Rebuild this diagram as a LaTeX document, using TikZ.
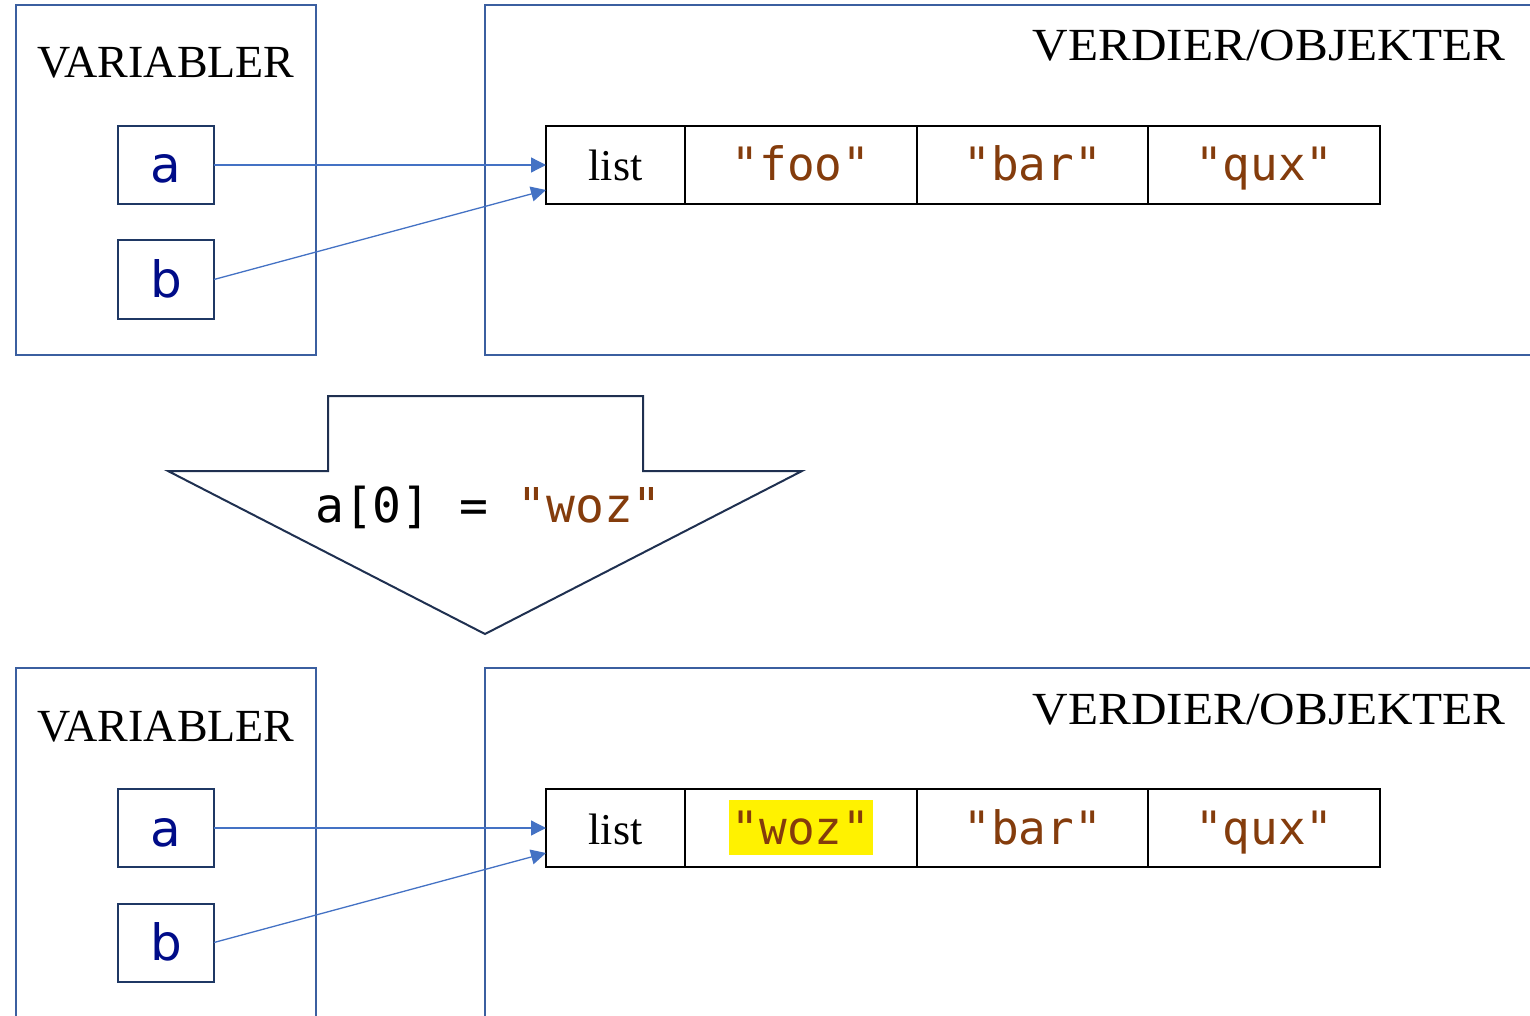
\documentclass[tikz,border=0pt]{standalone}
\usepackage{fontspec}
\setmainfont{Liberation Serif}
\setsansfont{DejaVu Sans}
\setmonofont{DejaVu Sans Mono}
\newfontfamily\widetitle[FakeStretch=1.07]{Liberation Serif}
\usetikzlibrary{arrows.meta,calc}
\definecolor{panelblue}{HTML}{3B5FA0}
\definecolor{varborder}{HTML}{1F3864}
\definecolor{varname}{HTML}{000C88}
\definecolor{strbrown}{HTML}{843C0C}
\definecolor{refblue}{HTML}{4472C4}
\definecolor{arrowedge}{HTML}{1F3050}
\begin{document}
\begin{tikzpicture}[x=1pt,y=-1pt,
  panel/.style={draw=panelblue,line width=2.2pt},
  title/.style={font=\fontsize{46}{50}\selectfont,inner sep=0pt},
  wtitle/.style={font=\widetitle\fontsize{46}{50}\selectfont,inner sep=0pt},
  varbox/.style={draw=varborder,line width=2pt,minimum width=96pt,minimum height=78pt,inner sep=0pt,outer sep=0pt,
    text=varname,font=\sffamily\fontsize{50}{56}\selectfont,text height=44pt,text depth=8pt},
  cell/.style={draw=black,line width=2pt,minimum height=78pt,inner sep=0pt,outer sep=0pt,anchor=west,
    text height=40pt,text depth=8pt},
  typecell/.style={cell,minimum width=139pt,font=\fontsize{44}{50}\selectfont},
  valcell/.style={cell,minimum width=231.7pt,text=strbrown,font=\ttfamily\fontsize{46}{52}\selectfont},
  ref/.style={draw=refblue,line width=1.3pt,-{Triangle[length=15pt,width=15pt]}},
  highlight/.style={fill=yellow,draw=none,inner sep=0pt,minimum width=144pt,minimum height=55pt}
]
\useasboundingbox (0,0) rectangle (1530,1016);
\clip (0,0) rectangle (1530,1016);

% ---------- top panel ----------
\draw[panel] (16,5) rectangle (316,355);
\draw[panel] (485,5) rectangle (1560,355);
\node[title,anchor=base] (vt1) at (166,78) {VARIABLER};
\node[wtitle,anchor=base east] (ot1) at (1506,61) {VERDIER/OBJEKTER};

\node[varbox] (a1) at (166,165) {a};
\node[varbox] (b1) at (166,279.5) {b};

\node[typecell] (l1) at (546,165) {list};
\node[valcell] (c11) at (l1.east) {"foo"};
\node[valcell] (c12) at (c11.east) {"bar"};
\node[valcell] (c13) at (c12.east) {"qux"};

\coordinate (bt1) at (546,190);
\draw[ref] (a1.east) -- (l1.west);
\draw[ref] (b1.east) -- (bt1);

% ---------- block arrow ----------
\draw[draw=arrowedge,line width=2pt,line join=miter,fill=white]
  (328,396) -- (643,396) -- (643,471) -- (802,471) -- (485,634) -- (168,471) -- (328,471) -- cycle;
\node[anchor=base,inner sep=0pt,font=\ttfamily\fontsize{48}{52}\selectfont] (stmt) at (488.5,522)
  {a[0] = \textcolor{strbrown}{"woz"}};

% ---------- bottom panel ----------
\draw[panel] (16,1040) -- (16,668) -- (316,668) -- (316,1040);
\draw[panel] (485,1040) -- (485,668) -- (1560,668);
\node[title,anchor=base] (vt2) at (166,741) {VARIABLER};
\node[wtitle,anchor=base east] (ot2) at (1506,724) {VERDIER/OBJEKTER};

\node[varbox] (a2) at (166,828) {a};
\node[varbox] (b2) at (166,942.5) {b};

\node[highlight] (hl) at (801,827.5) {};
\node[typecell] (l2) at (546,828) {list};
\node[valcell] (c21) at (l2.east) {"woz"};
\node[valcell] (c22) at (c21.east) {"bar"};
\node[valcell] (c23) at (c22.east) {"qux"};

\coordinate (bt2) at (546,853);
\draw[ref] (a2.east) -- (l2.west);
\draw[ref] (b2.east) -- (bt2);
\end{tikzpicture}
\end{document}
